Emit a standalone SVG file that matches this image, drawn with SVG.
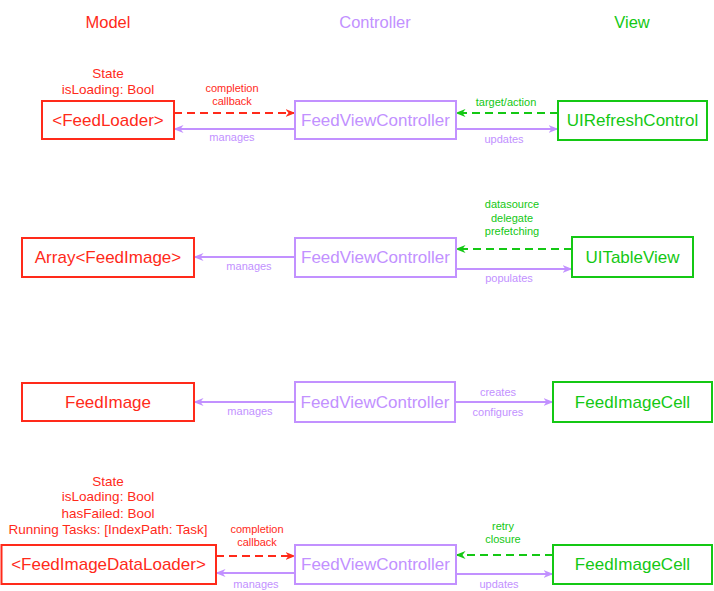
<svg xmlns="http://www.w3.org/2000/svg" width="714" height="591" viewBox="0 0 714 591">
<style>
text{font-family:"Liberation Sans",Arial,sans-serif;text-anchor:middle}
.hd{font-size:16.5px}
.bt{font-size:17px}
.st{font-size:13.5px;fill:#ff2a1a}
.lb{font-size:11px}
.r{fill:#ff2a1a}.p{fill:#c291ff}.g{fill:#14c814}
.box{fill:#fff;stroke-width:2}
.br{stroke:#ff2a1a}.bp{stroke:#c291ff}.bg{stroke:#14c814}
.ln{fill:none;stroke-width:2}
.dash{stroke-dasharray:8 5}
.lr{stroke:#ff2a1a;marker-end:url(#ar)}
.lp{stroke:#c291ff;marker-end:url(#ap)}
.lg{stroke:#14c814;marker-end:url(#ag)}
</style>
<defs>
<marker id="ar" viewBox="0 0 10 8" refX="9.5" refY="4" markerWidth="10" markerHeight="8" markerUnits="userSpaceOnUse" orient="auto"><path d="M0,0 L10,4 L0,8 L3,4 Z" fill="#ff2a1a"/></marker>
<marker id="ap" viewBox="0 0 10 8" refX="9.5" refY="4" markerWidth="10" markerHeight="8" markerUnits="userSpaceOnUse" orient="auto"><path d="M0,0 L10,4 L0,8 L3,4 Z" fill="#c291ff"/></marker>
<marker id="ag" viewBox="0 0 10 8" refX="9.5" refY="4" markerWidth="10" markerHeight="8" markerUnits="userSpaceOnUse" orient="auto"><path d="M0,0 L10,4 L0,8 L3,4 Z" fill="#14c814"/></marker>
</defs>
<rect width="714" height="591" fill="#fff"/>
<g id="headers">
<text class="hd r" x="108" y="28">Model</text>
<text class="hd p" x="375" y="28">Controller</text>
<text class="hd g" x="632" y="28">View</text>
</g>
<g id="connectors">
<!-- row 1 -->
<path class="ln lr dash" d="M174,113 H295"/>
<path class="ln lp" d="M295,129 H174"/>
<path class="ln lg dash" d="M558,113 H456"/>
<path class="ln lp" d="M456,129 H558"/>
<text class="lb r" x="232" y="92">completion</text>
<text class="lb r" x="232" y="105">callback</text>
<text class="lb p" x="232" y="141">manages</text>
<text class="lb g" x="506" y="106">target/action</text>
<text class="lb p" x="504" y="143">updates</text>
<!-- row 2 -->
<path class="ln lp" d="M295,257 H194"/>
<path class="ln lg dash" d="M572,249 H456"/>
<path class="ln lp" d="M456,269 H572"/>
<text class="lb p" x="249" y="270">manages</text>
<text class="lb g" x="512" y="208">datasource</text>
<text class="lb g" x="512" y="221.5">delegate</text>
<text class="lb g" x="512" y="235">prefetching</text>
<text class="lb p" x="509" y="282">populates</text>
<!-- row 3 -->
<path class="ln lp" d="M295,402 H194"/>
<path class="ln lp" d="M455,402 H553"/>
<text class="lb p" x="250" y="415">manages</text>
<text class="lb p" x="498" y="396">creates</text>
<text class="lb p" x="498" y="416">configures</text>
<!-- row 4 -->
<path class="ln lr dash" d="M216,556 H295"/>
<path class="ln lp" d="M295,573 H216"/>
<path class="ln lg dash" d="M553,555 H456"/>
<path class="ln lp" d="M456,574 H553"/>
<text class="lb r" x="257" y="533">completion</text>
<text class="lb r" x="257" y="546">callback</text>
<text class="lb p" x="256" y="588">manages</text>
<text class="lb g" x="503" y="530">retry</text>
<text class="lb g" x="503" y="543">closure</text>
<text class="lb p" x="499" y="588">updates</text>
</g>
<g id="feedloader">
<text class="st" x="108" y="78">State</text>
<text class="st" x="108" y="94">isLoading: Bool</text>
<rect class="box br" x="42" y="101" width="132" height="38"/>
<text class="bt r" x="108" y="126">&lt;FeedLoader&gt;</text>
</g>
<g id="fvc1">
<rect class="box bp" x="295" y="101" width="161" height="38"/>
<text class="bt p" x="375.5" y="126">FeedViewController</text>
</g>
<g id="refreshcontrol">
<rect class="box bg" x="558" y="101" width="149" height="39"/>
<text class="bt g" x="632.5" y="126">UIRefreshControl</text>
</g>
<g id="arrayfeedimage">
<rect class="box br" x="22" y="238" width="172" height="39"/>
<text class="bt r" x="108" y="263">Array&lt;FeedImage&gt;</text>
</g>
<g id="fvc2">
<rect class="box bp" x="295" y="238" width="161" height="39"/>
<text class="bt p" x="375.5" y="263">FeedViewController</text>
</g>
<g id="tableview">
<rect class="box bg" x="572" y="237" width="121" height="40"/>
<text class="bt g" x="632.5" y="263">UITableView</text>
</g>
<g id="feedimage">
<rect class="box br" x="22" y="383" width="172" height="38"/>
<text class="bt r" x="108" y="408">FeedImage</text>
</g>
<g id="fvc3">
<rect class="box bp" x="295" y="382" width="160" height="40"/>
<text class="bt p" x="375" y="408">FeedViewController</text>
</g>
<g id="feedimagecell1">
<rect class="box bg" x="553" y="382" width="159" height="40"/>
<text class="bt g" x="632.5" y="408">FeedImageCell</text>
</g>
<g id="feedimagedataloader">
<text class="st" x="108" y="486">State</text>
<text class="st" x="108" y="501">isLoading: Bool</text>
<text class="st" x="108" y="518">hasFailed: Bool</text>
<text class="st" x="108" y="534">Running Tasks: [IndexPath: Task]</text>
<rect class="box br" x="1.5" y="545" width="214.5" height="39"/>
<text class="bt r" x="108.5" y="570">&lt;FeedImageDataLoader&gt;</text>
</g>
<g id="fvc4">
<rect class="box bp" x="295" y="545" width="161" height="39"/>
<text class="bt p" x="375.5" y="570">FeedViewController</text>
</g>
<g id="feedimagecell2">
<rect class="box bg" x="553" y="545" width="159" height="39"/>
<text class="bt g" x="632.5" y="570">FeedImageCell</text>
</g>
</svg>
